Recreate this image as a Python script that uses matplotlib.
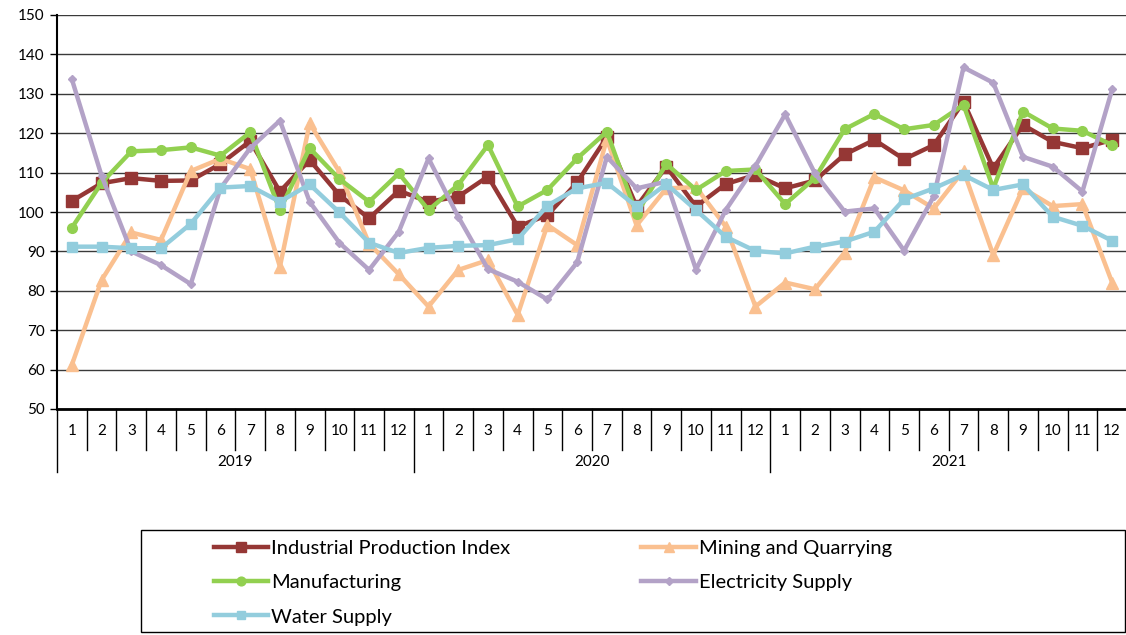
import matplotlib
matplotlib.use("Agg")
import matplotlib.pyplot as plt
from matplotlib.patches import Rectangle
from matplotlib.transforms import blended_transform_factory

plt.rcParams['font.family'] = ['Lato', 'DejaVu Sans']

years = ["2019", "2020", "2021"]
months = [str(m) for m in range(1, 13)]

industrial = [102.8, 107.3, 108.6, 107.9, 108.0, 112.2, 118.0, 105.2, 113.2, 104.3, 98.4, 105.4,
              102.6, 103.9, 109.0, 96.3, 99.2, 107.5, 119.0, 101.4, 111.5, 101.4, 107.1, 109.4,
              106.0, 108.0, 114.6, 118.3, 113.4, 117.0, 128.0, 111.1, 122.1, 117.8, 116.2, 118.3]
mining = [61.2, 82.7, 94.8, 92.9, 110.4, 113.5, 110.9, 86.1, 122.5, 110.2, 92.0, 84.2,
          76.0, 85.3, 87.8, 73.9, 96.7, 91.6, 118.5, 96.6, 106.0, 106.3, 96.3, 76.0,
          82.1, 80.4, 89.7, 108.8, 105.5, 100.9, 110.5, 89.1, 106.0, 101.5, 102.0, 82.1]
manufacturing = [96.0, 107.4, 115.4, 115.7, 116.4, 114.3, 120.2, 100.5, 116.2, 108.4, 102.6, 109.8,
                 100.5, 106.9, 117.0, 101.4, 105.6, 113.6, 120.4, 99.5, 112.2, 105.6, 110.4, 110.8,
                 102.0, 108.6, 121.0, 124.9, 121.0, 122.1, 127.2, 106.0, 125.5, 121.2, 120.6, 117.0]
electricity = [133.7, 109.2, 90.0, 86.5, 81.7, 106.0, 116.2, 123.2, 102.6, 92.2, 85.3, 95.0,
               113.6, 98.8, 85.5, 82.3, 77.8, 87.2, 114.0, 106.0, 107.7, 85.4, 100.5, 111.7,
               124.8, 109.8, 100.1, 100.9, 90.2, 104.0, 136.7, 132.8, 114.0, 111.5, 105.2, 131.1]
water = [91.2, 91.2, 90.8, 90.8, 97.0, 106.2, 106.6, 102.6, 107.0, 99.9, 92.2, 89.6,
         90.9, 91.4, 91.6, 93.1, 101.6, 106.0, 107.4, 101.4, 107.1, 100.5, 93.7, 90.1,
         89.5, 91.2, 92.5, 95.0, 103.2, 106.0, 109.4, 105.6, 107.0, 98.8, 96.5, 92.7]

series = [
    ("Industrial Production Index", industrial, "#953735", "s", 8),
    ("Mining and Quarrying", mining, "#FAC090", "^", 8),
    ("Manufacturing", manufacturing, "#92D050", "o", 7),
    ("Electricity Supply", electricity, "#B3A2C7", "D", 4.5),
    ("Water Supply", water, "#93CDDD", "s", 7),
]

W, H = 1126, 635
fig = plt.figure(figsize=(W / 100, H / 100), dpi=100)
left, right, top, bottom = 57, 1127, 15, 409
ax = fig.add_axes([left / W, 1 - bottom / H, (right - left) / W, (bottom - top) / H])

n = len(years) * len(months)
x = list(range(n))
handles = {}
for name, vals, col, mk, ms in series:
    h, = ax.plot(x, vals, color=col, lw=3.2, marker=mk, markersize=ms,
                 markerfacecolor=col, markeredgecolor=col, label=name, zorder=3)
    handles[name] = h

ax.set_xlim(-0.5, n - 0.5)
ax.set_ylim(50, 150)
ax.set_yticks(range(50, 151, 10))
ax.yaxis.grid(True, color="#3a3a3a", lw=1)
ax.set_axisbelow(True)
for s in ["top", "right"]:
    ax.spines[s].set_visible(False)
ax.spines["left"].set_linewidth(1.5)
ax.spines["bottom"].set_linewidth(2)
ax.tick_params(axis="y", labelsize=11, length=5, width=1, direction="out", pad=4)
ax.set_xticks([])

tr = blended_transform_factory(ax.transData, ax.transAxes)
for i in range(n + 1):
    xb = i - 0.5
    yend = -0.16 if i % 12 == 0 else -0.105
    ax.plot([xb, xb], [0, yend], color="black", lw=1, transform=tr, clip_on=False)
for i in range(n):
    ax.text(i, -0.055, months[i % 12], transform=tr, ha="center", va="center", fontsize=11)
for j, yr in enumerate(years):
    ax.text(j * 12 + 5.5, -0.135, yr, transform=tr, ha="center", va="center", fontsize=11)

# legend frame
lb, lt, ll, lr = 632, 530, 141, 1125
fig.patches.append(Rectangle((ll / W, 1 - lb / H), (lr - ll) / W, (lb - lt) / H,
                             transform=fig.transFigure, fill=False, edgecolor="black", lw=1))
order = ["Industrial Production Index", "Manufacturing", "Water Supply",
         "Mining and Quarrying", "Electricity Supply"]
leg = fig.legend([handles[k] for k in order], order, ncol=2,
                 loc="upper left", bbox_to_anchor=(214 / W, 1 - 540 / H),
                 frameon=False, fontsize=14.5,
                 handlelength=2.7, handletextpad=0.15, labelspacing=0.85,
                 columnspacing=6.5, borderpad=0, borderaxespad=0, markerscale=0.9)

fig.savefig("out.png", dpi=100)
